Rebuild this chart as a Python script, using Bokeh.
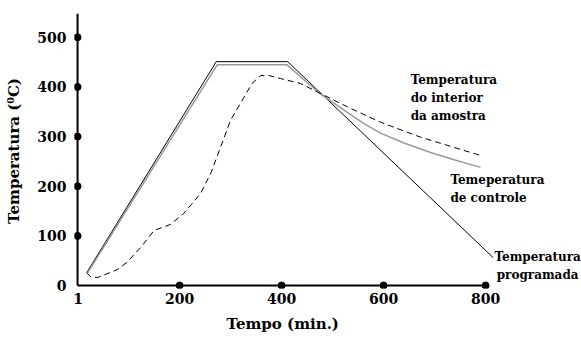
from bokeh.plotting import figure
from bokeh.models import Range1d, FixedTicker, Label, Title
from bokeh.embed import file_html
from bokeh.resources import INLINE

# ---- data ----
x_ticks = [1, 200, 400, 600, 800]
y_ticks = [0, 100, 200, 300, 400, 500]
y_top = 548
x_title = "Tempo (min.)"
y_title = "Temperatura (\u2070C)"

# programmed temperature (black thin line)
prog_t = [18, 272, 412, 815]
prog_v = [26, 451, 451, 56]

# control temperature (grey line)
ctrl_t = [20, 274, 410, 450, 476, 529, 560, 594, 640, 692, 740, 790]
ctrl_v = [26, 445, 445, 409, 386, 349, 327, 307, 287, 268, 253, 238]

# sample interior temperature (dashed line)
inner_t = [18, 25, 39, 78, 97, 124, 150, 182, 208, 241, 262, 300, 342, 359,
           375, 398, 437, 476, 529, 594, 672, 790]
inner_v = [26, 18, 16, 32, 47, 77, 111, 123, 145, 185, 228, 333, 407, 423,
           423, 417, 407, 387, 360, 329, 299, 262]

labels_text = ["Temperatura\ndo interior\nda amostra",
               "Temeperatura\nde controle",
               "Temperatura\nprogramada"]
labels_x = [653, 731, 902]
labels_y = [428, 227, 72]
labels_align = ["left", "left", "center"]

FONT = "DejaVu Serif"

p = figure(width=581, height=343, output_backend="svg", toolbar_location=None,
           x_range=Range1d(-6, 988), y_range=Range1d(-6, y_top),
           min_border_left=74, min_border_right=0, min_border_top=13,
           min_border_bottom=55)
p.outline_line_color = None
p.grid.visible = False
p.background_fill_color = "white"

for ax in (p.xaxis[0], p.yaxis[0]):
    ax.axis_line_color = None
    ax.major_tick_line_color = None
    ax.minor_tick_line_color = None
    ax.major_tick_out = 0
    ax.major_tick_in = 0
    ax.major_label_text_font = FONT
    ax.major_label_text_font_style = "bold"
    ax.major_label_text_font_size = "14px"
    ax.major_label_text_color = "black"
    ax.axis_label_text_font = FONT
    ax.axis_label_text_font_style = "bold"
    ax.axis_label_text_font_size = "15px"
    ax.axis_label_text_color = "black"

p.xaxis.ticker = FixedTicker(ticks=x_ticks)
p.yaxis.ticker = FixedTicker(ticks=y_ticks)
p.xaxis.major_label_standoff = 4
p.yaxis.major_label_standoff = 8
p.yaxis.axis_label = y_title
p.yaxis.axis_label_standoff = 11

# x-axis title centred under the drawn axis (0..800), as a title below
p.add_layout(Title(text=x_title, align="left", offset=152, standoff=13,
                   text_font=FONT, text_font_style="bold",
                   text_font_size="15px", text_color="black"), "below")

# axis lines through the origin
p.segment(x0=[0, 0], y0=[0, 0], x1=[x_ticks[-1], 0], y1=[0, y_top],
          line_color="black", line_width=2)

p.line(prog_t, prog_v, line_color="black", line_width=1)
p.line(ctrl_t, ctrl_v, line_color="#999999", line_width=1.5)
p.line(inner_t, inner_v, line_color="black", line_width=1, line_dash="6 4")

p.scatter(x_ticks[1:], [0] * len(x_ticks[1:]), size=7, color="black")
p.scatter([0] * len(y_ticks[1:]), y_ticks[1:], size=7, color="black")

for t, x, y, a in zip(labels_text, labels_x, labels_y, labels_align):
    p.add_layout(Label(x=x, y=y, text=t, text_align=a, text_baseline="top",
                       text_font=FONT, text_font_style="bold",
                       text_font_size="12px", text_line_height=1.28,
                       text_color="black"))

open("out.html", "w").write(file_html(p, INLINE))
